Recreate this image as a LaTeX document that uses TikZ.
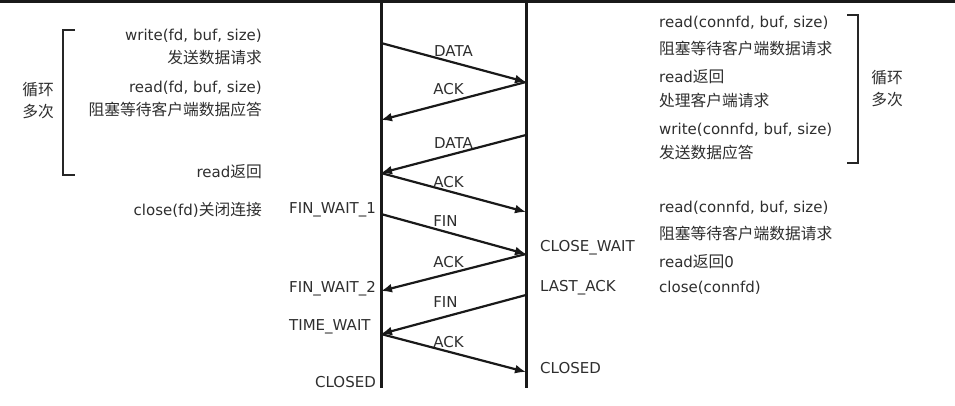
\documentclass[tikz,border=0pt]{standalone}
\usepackage{fontspec}
\setmainfont{DejaVu Sans}
\newfontfamily\cjk[Scale=1.05]{Noto Sans CJK SC}
\usetikzlibrary{arrows.meta}
\begin{document}
\begin{tikzpicture}[x=1pt,y=-1pt,
  txt/.style={inner sep=0pt, text=black!82, font=\fontsize{15}{17}\selectfont},
  life/.style={line width=3pt, black!90},
  msg/.style={line width=2.2pt, black!90, -{Latex[length=11pt,width=9pt]}},
  lbl/.style={txt, midway, yshift=11.5pt},
  brk/.style={line width=2.5pt, black!85}]
\useasboundingbox (0,0) rectangle (955,406);
\fill[black!90] (0,0) rectangle (955,3);
% lifelines
\coordinate (LT) at (381,0); \coordinate (LB) at (381,388);
\coordinate (RT) at (526,0); \coordinate (RB) at (526,388);
\draw[life] (LT) -- (LB);
\draw[life] (RT) -- (RB);
% message points
\coordinate (l1) at (381,43);  \coordinate (r1) at (526,82);
\coordinate (l2) at (381,120); \coordinate (r2) at (526,135);
\coordinate (l3) at (381,173); \coordinate (r3) at (526,212);
\coordinate (l4) at (381,214); \coordinate (r4) at (526,254);
\coordinate (l5) at (381,291); \coordinate (r5) at (526,295);
\coordinate (l6) at (381,334); \coordinate (r6) at (526,372);
\draw[msg] (l1) -- node[lbl]{DATA} (r1);
\draw[msg] (r1) -- node[lbl,xshift=-5pt]{ACK} (l2);
\draw[msg] (r2) -- node[lbl,yshift=-1pt]{DATA} (l3);
\draw[msg] (l3) -- node[lbl,xshift=-5pt,yshift=-1pt]{ACK} (r3);
\draw[msg] (l4) -- node[lbl,xshift=-8pt,yshift=1pt]{FIN} (r4);
\draw[msg] (r4) -- node[lbl,xshift=-5pt,yshift=-1pt]{ACK} (l5);
\draw[msg] (r5) -- node[lbl,xshift=-8pt,yshift=1pt]{FIN} (l6);
\draw[msg] (l6) -- node[lbl,xshift=-5pt,yshift=-1pt]{ACK} (r6);
% left texts
\node[txt,anchor=east] (lw1) at (262,36) {write(fd, buf, size)};
\node[txt,anchor=east] (lw2) at (262,58) {\cjk 发送数据请求};
\node[txt,anchor=east] (lr1) at (262,88) {read(fd, buf, size)};
\node[txt,anchor=east] (lr2) at (262,110) {\cjk 阻塞等待客户端数据应答};
\node[txt,anchor=east] (lr3) at (262,172) {read{\cjk 返回}};
\node[txt,anchor=east] (lc) at (262,210) {close(fd){\cjk 关闭连接}};
\node[txt] (lloop1) at (38,90) {\cjk 循环};
\node[txt] (lloop2) at (38,112) {\cjk 多次};
\draw[brk] (75,30) -- (63,30) -- (63,175) -- (75,175);
% left states
\node[txt,anchor=west] (fw1) at (289,210) {FIN\_WAIT\_1};
\node[txt,anchor=west] (fw2) at (289,289) {FIN\_WAIT\_2};
\node[txt,anchor=west] (tw) at (289,327) {TIME\_WAIT};
\node[txt,anchor=east] (lcl) at (376,382) {CLOSED};
% right states
\node[txt,anchor=west] (cw) at (540,248) {CLOSE\_WAIT};
\node[txt,anchor=west] (la) at (540,288) {LAST\_ACK};
\node[txt,anchor=west] (rcl) at (540,368) {CLOSED};
% right texts
\node[txt,anchor=west] (rr1) at (659,23) {read(connfd, buf, size)};
\node[txt,anchor=west] (rr2) at (659,48) {\cjk 阻塞等待客户端数据请求};
\node[txt,anchor=west] (rr3) at (659,77) {read{\cjk 返回}};
\node[txt,anchor=west] (rr4) at (659,100) {\cjk 处理客户端请求};
\node[txt,anchor=west] (rw1) at (659,130) {write(connfd, buf, size)};
\node[txt,anchor=west] (rw2) at (659,153) {\cjk 发送数据应答};
\node[txt] (rloop1) at (887,78) {\cjk 循环};
\node[txt] (rloop2) at (887,100) {\cjk 多次};
\draw[brk] (847,15) -- (858,15) -- (858,163) -- (847,163);
\node[txt,anchor=west] (rr5) at (659,208) {read(connfd, buf, size)};
\node[txt,anchor=west] (rr6) at (659,233) {\cjk 阻塞等待客户端数据请求};
\node[txt,anchor=west] (rr7) at (659,262) {read{\cjk 返回}0};
\node[txt,anchor=west] (rc) at (659,288) {close(connfd)};
\end{tikzpicture}
\end{document}
